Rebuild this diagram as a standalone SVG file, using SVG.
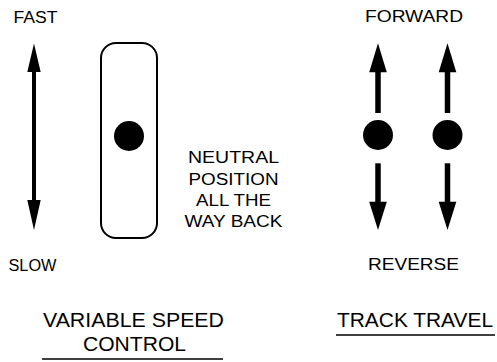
<svg xmlns="http://www.w3.org/2000/svg" width="497" height="362" viewBox="0 0 497 362">
  <style>
    text { font-family: "Liberation Sans", Arial, sans-serif; fill: #000; }
    .sm { font-size: 16.3px; }
    .lg { font-size: 20.5px; }
    .shaft { stroke: #000; stroke-width: 4; fill: none; }
    .shaft-w { stroke: #000; stroke-width: 5.5; fill: none; }
    .head { fill: #000; }
    .knob { fill: #000; }
    .ul { stroke: #000; stroke-width: 1.6; }
  </style>
  <rect width="497" height="362" fill="#fff"/>

  <!-- variable speed control: double-headed lever arrow and slot -->
  <g id="speed-arrow">
    <line class="shaft" x1="34" y1="70" x2="34" y2="202"/>
    <polygon class="head" points="34,43.5 27.3,72 40.7,72"/>
    <polygon class="head" points="34,230 27.3,200 40.7,200"/>
  </g>
  <g id="speed-slot">
    <rect x="101" y="43" width="56" height="195" rx="15" ry="15" fill="none" stroke="#000" stroke-width="2"/>
    <circle class="knob" cx="129" cy="136" r="15"/>
  </g>
  <g id="speed-labels">
    <text class="sm" x="35.5" y="23" text-anchor="middle" textLength="44" lengthAdjust="spacingAndGlyphs">FAST</text>
    <text class="sm" x="32.5" y="271" text-anchor="middle" textLength="48" lengthAdjust="spacingAndGlyphs">SLOW</text>
    <text class="sm" x="233.5" y="163" text-anchor="middle" textLength="91" lengthAdjust="spacingAndGlyphs">NEUTRAL</text>
    <text class="sm" x="233.5" y="185" text-anchor="middle" textLength="90" lengthAdjust="spacingAndGlyphs">POSITION</text>
    <text class="sm" x="233.5" y="206" text-anchor="middle" textLength="75" lengthAdjust="spacingAndGlyphs">ALL THE</text>
    <text class="sm" x="233.5" y="227" text-anchor="middle" textLength="98" lengthAdjust="spacingAndGlyphs">WAY BACK</text>
  </g>

  <!-- track travel: two levers, forward/reverse -->
  <g id="track-left">
    <line class="shaft-w" x1="378" y1="70" x2="378" y2="113"/>
    <polygon class="head" points="378,43.3 369.2,72.3 386.8,72.3"/>
    <circle class="knob" cx="378" cy="135" r="15"/>
    <line class="shaft-w" x1="378" y1="163.3" x2="378" y2="204"/>
    <polygon class="head" points="378,230 369.2,201.7 386.8,201.7"/>
  </g>
  <g id="track-right">
    <line class="shaft-w" x1="447.5" y1="70" x2="447.5" y2="113"/>
    <polygon class="head" points="447.5,43.3 438.7,72.3 456.3,72.3"/>
    <circle class="knob" cx="447.5" cy="135" r="15"/>
    <line class="shaft-w" x1="447.5" y1="163.3" x2="447.5" y2="204"/>
    <polygon class="head" points="447.5,230 438.7,201.7 456.3,201.7"/>
  </g>
  <g id="track-labels">
    <text class="sm" x="414" y="22" text-anchor="middle" textLength="98" lengthAdjust="spacingAndGlyphs">FORWARD</text>
    <text class="sm" x="413.5" y="270" text-anchor="middle" textLength="91" lengthAdjust="spacingAndGlyphs">REVERSE</text>
  </g>

  <!-- underlined captions -->
  <g id="captions">
    <text class="lg" x="133.5" y="327" text-anchor="middle" textLength="181" lengthAdjust="spacingAndGlyphs">VARIABLE SPEED</text>
    <text class="lg" x="134.5" y="351" text-anchor="middle" textLength="103" lengthAdjust="spacingAndGlyphs">CONTROL</text>
    <line class="ul" x1="42" y1="359" x2="223" y2="359"/>
    <text class="lg" x="415" y="327" text-anchor="middle" textLength="156" lengthAdjust="spacingAndGlyphs">TRACK TRAVEL</text>
    <line class="ul" x1="336" y1="335" x2="495" y2="335"/>
  </g>
</svg>
